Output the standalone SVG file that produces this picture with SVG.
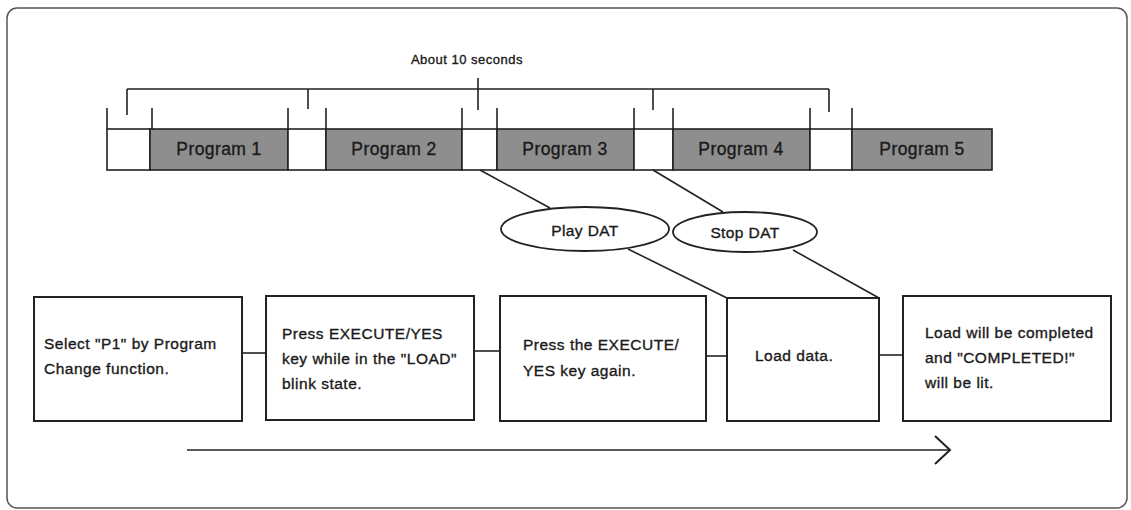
<svg xmlns="http://www.w3.org/2000/svg" width="1131" height="510" viewBox="0 0 1131 510">
<style>
.t{font-family:"Liberation Sans",Arial,sans-serif;fill:#1a1a1a;stroke:#1a1a1a;stroke-width:0.35px}
.box{fill:#fff;stroke:#222;stroke-width:2}
.seg{stroke:#222;stroke-width:1.6}
.prog{fill:#8e8e8e}
.blank{fill:#fff}
.ln{stroke:#222;stroke-width:1.6;fill:none}
.bt{font-size:15.5px;letter-spacing:0.5px}
.pt{font-size:17.5px;letter-spacing:0.4px;text-anchor:middle}
.et{font-size:15.5px;letter-spacing:0.4px;text-anchor:middle}
.ell{fill:#fff;stroke:#222;stroke-width:1.8}
</style>
<defs>
<marker id="chev" markerUnits="userSpaceOnUse" markerWidth="20" markerHeight="32" refX="17" refY="15" orient="auto">
<path d="M2,1 L17,15 L2,29" fill="none" stroke="#222" stroke-width="2"/>
</marker>
</defs>
<rect x="7" y="8" width="1120" height="500" rx="10" fill="#fff" stroke="#555" stroke-width="1.5"/>

<g id="timing-bracket">
<path class="ln" d="M127,89 H829 M127,89 V115 M308,89 V109 M478,78 V110 M653,89 V110 M829,89 V112"/>
<text class="t" x="467" y="64" font-size="13" text-anchor="middle" letter-spacing="0.5">About 10 seconds</text>
</g>

<g id="timeline">
<path class="ln" d="M107,108 V129 M152,108 V129 M288,108 V129 M326,108 V129 M462,108 V129 M497,108 V129 M634,108 V129 M673,108 V129 M810,108 V129 M852,108 V129"/>
<rect class="seg blank" x="107" y="129" width="43" height="41"/>
<g id="program1"><rect class="seg prog" x="150" y="129" width="138" height="41"/><text class="t pt" x="219" y="155">Program 1</text></g>
<rect class="seg blank" x="288" y="129" width="38" height="41"/>
<g id="program2"><rect class="seg prog" x="326" y="129" width="136" height="41"/><text class="t pt" x="394" y="155">Program 2</text></g>
<rect class="seg blank" x="462" y="129" width="35" height="41"/>
<g id="program3"><rect class="seg prog" x="497" y="129" width="137" height="41"/><text class="t pt" x="565" y="155">Program 3</text></g>
<rect class="seg blank" x="634" y="129" width="39" height="41"/>
<g id="program4"><rect class="seg prog" x="673" y="129" width="137" height="41"/><text class="t pt" x="741" y="155">Program 4</text></g>
<rect class="seg blank" x="810" y="129" width="42" height="41"/>
<g id="program5"><rect class="seg prog" x="852" y="129" width="140" height="41"/><text class="t pt" x="922" y="155">Program 5</text></g>
</g>

<g id="connectors">
<path class="ln" d="M480,170 L550,208"/>
<path class="ln" d="M653,170 L723,212"/>
<path class="ln" d="M628,249 L727,298"/>
<path class="ln" d="M793,250 L879,298"/>
<path class="ln" d="M242,353 H266" stroke-width="2.4"/>
<path class="ln" d="M474,351 H500"/>
<path class="ln" d="M706,356 H727"/>
<path class="ln" d="M879,355 H903" stroke-width="2.2"/>
<path class="ln" d="M187,450 H950" stroke-width="2" marker-end="url(#chev)"/>
</g>

<g id="play-dat">
<ellipse class="ell" cx="585" cy="229" rx="84" ry="22"/>
<text class="t et" x="585" y="236">Play DAT</text>
</g>
<g id="stop-dat">
<ellipse class="ell" cx="745" cy="232" rx="72" ry="20"/>
<text class="t et" x="745" y="238">Stop DAT</text>
</g>

<g id="step1">
<rect class="box" x="34" y="297" width="208" height="124"/>
<text class="t bt" x="44" y="349">Select "P1" by Program</text>
<text class="t bt" x="44" y="374">Change function.</text>
</g>
<g id="step2">
<rect class="box" x="266" y="296" width="208" height="124"/>
<text class="t bt" x="282" y="339">Press EXECUTE/YES</text>
<text class="t bt" x="282" y="364">key while in the "LOAD"</text>
<text class="t bt" x="282" y="389">blink state.</text>
</g>
<g id="step3">
<rect class="box" x="500" y="296" width="206" height="125"/>
<text class="t bt" x="523" y="350">Press the EXECUTE/</text>
<text class="t bt" x="523" y="376">YES key again.</text>
</g>
<g id="step4">
<rect class="box" x="727" y="298" width="152" height="123"/>
<text class="t bt" x="755" y="361">Load data.</text>
</g>
<g id="step5">
<rect class="box" x="903" y="296" width="208" height="125"/>
<text class="t bt" x="925" y="338">Load will be completed</text>
<text class="t bt" x="925" y="363">and "COMPLETED!"</text>
<text class="t bt" x="925" y="388">will be lit.</text>
</g>
</svg>
